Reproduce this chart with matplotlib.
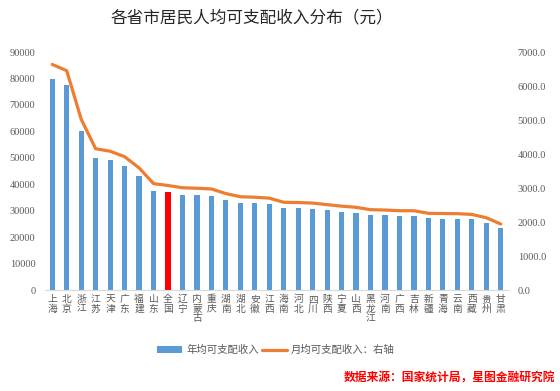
import matplotlib.pyplot as plt
import numpy as np

plt.rcParams['font.family'] = ['Noto Sans CJK SC', 'DejaVu Sans']

# 各省市 2022 年人均可支配收入（元）
provinces = ['上海', '北京', '浙江', '江苏', '天津', '广东', '福建', '山东', '全国',
             '辽宁', '内蒙古', '重庆', '湖南', '湖北', '安徽', '江西', '海南', '河北',
             '四川', '陕西', '宁夏', '山西', '黑龙江', '河南', '广西', '吉林', '新疆',
             '青海', '云南', '西藏', '贵州', '甘肃']
annual = [79610, 77415, 60302, 49862, 48976, 47065, 43118, 37560, 36883,
          36089, 35921, 35666, 34036, 32914, 32745, 32419, 30957, 30867,
          30679, 30116, 29599, 29178, 28346, 28222, 27981, 27975, 27063,
          27000, 26937, 26675, 25508, 23273]
monthly = [6634.2, 6451.3, 5025.2, 4155.2, 4081.3, 3922.1, 3593.2, 3130.0, 3073.6,
           3007.4, 2993.4, 2972.2, 2836.3, 2742.8, 2728.8, 2701.6, 2579.8, 2572.3,
           2556.6, 2509.7, 2466.6, 2431.5, 2362.2, 2351.8, 2331.8, 2331.3, 2255.3,
           2250.0, 2244.8, 2222.9, 2125.7, 1939.4]
left_ticks = [0, 10000, 20000, 30000, 40000, 50000, 60000, 70000, 80000, 90000]
right_ticks = [0, 1000, 2000, 3000, 4000, 5000, 6000, 7000]

blue = '#5B9BD5'
orange = '#ED7D31'
gray = '#595959'

fig = plt.figure(figsize=(5.6, 3.91), dpi=100)
ax = fig.add_axes([45/560, 1-290/391, (508-45)/560, (290-52)/391])
ax2 = ax.twinx()

x = np.arange(len(provinces))
colors = ['#FF0000' if p == '全国' else blue for p in provinces]
bars = ax.bar(x, annual, width=0.36, color=colors, zorder=2)
line, = ax2.plot(x, monthly, color=orange, lw=2.3, solid_joinstyle='round',
                 solid_capstyle='round', zorder=3)

ax.set_xlim(-0.5, len(provinces) - 0.5)
ax.set_ylim(0, 90000)
ax2.set_ylim(0, 7000)
ax.set_yticks(left_ticks)
ax.set_yticklabels([str(v) for v in left_ticks])
ax2.set_yticks(right_ticks)
ax2.set_yticklabels(['%.1f' % v for v in right_ticks])

# 竖排的省份标签
ax.set_xticks(x)
ax.set_xticklabels(['\n'.join(p) for p in provinces], va='top', linespacing=0.95)

for a in (ax, ax2):
    for s in a.spines.values():
        s.set_visible(False)
    a.tick_params(length=0)
ax.spines['bottom'].set_visible(True)
ax.spines['bottom'].set_color('#D9D9D9')
ax.tick_params(axis='x', labelsize=7, colors=gray, pad=3)
ax.tick_params(axis='y', labelsize=7.5, colors=gray, pad=7)
ax2.tick_params(axis='y', labelsize=7.5, colors=gray, pad=7)
for lab in ax.get_yticklabels() + ax2.get_yticklabels():
    lab.set_family('Liberation Serif')

fig.text(252/560, 1-18/391, '各省市居民人均可支配收入分布（元）', ha='center', va='center',
         fontsize=12, color='#262626')

fig.legend([bars.patches[0], line], ['年均可支配收入', '月均可支配收入：右轴'],
           loc='center', bbox_to_anchor=(276/560, 1-350/391), ncol=2, frameon=False,
           fontsize=7.5, labelcolor=gray, handlelength=2.4, handletextpad=0.4,
           columnspacing=0.3, handleheight=0.6)

fig.text(555/560, 1-378/391, '数据来源：国家统计局，星图金融研究院', ha='right', va='center',
         fontsize=8.5, color='#FF0000', fontweight='bold', style='italic')

fig.savefig('out.png', dpi=100)
